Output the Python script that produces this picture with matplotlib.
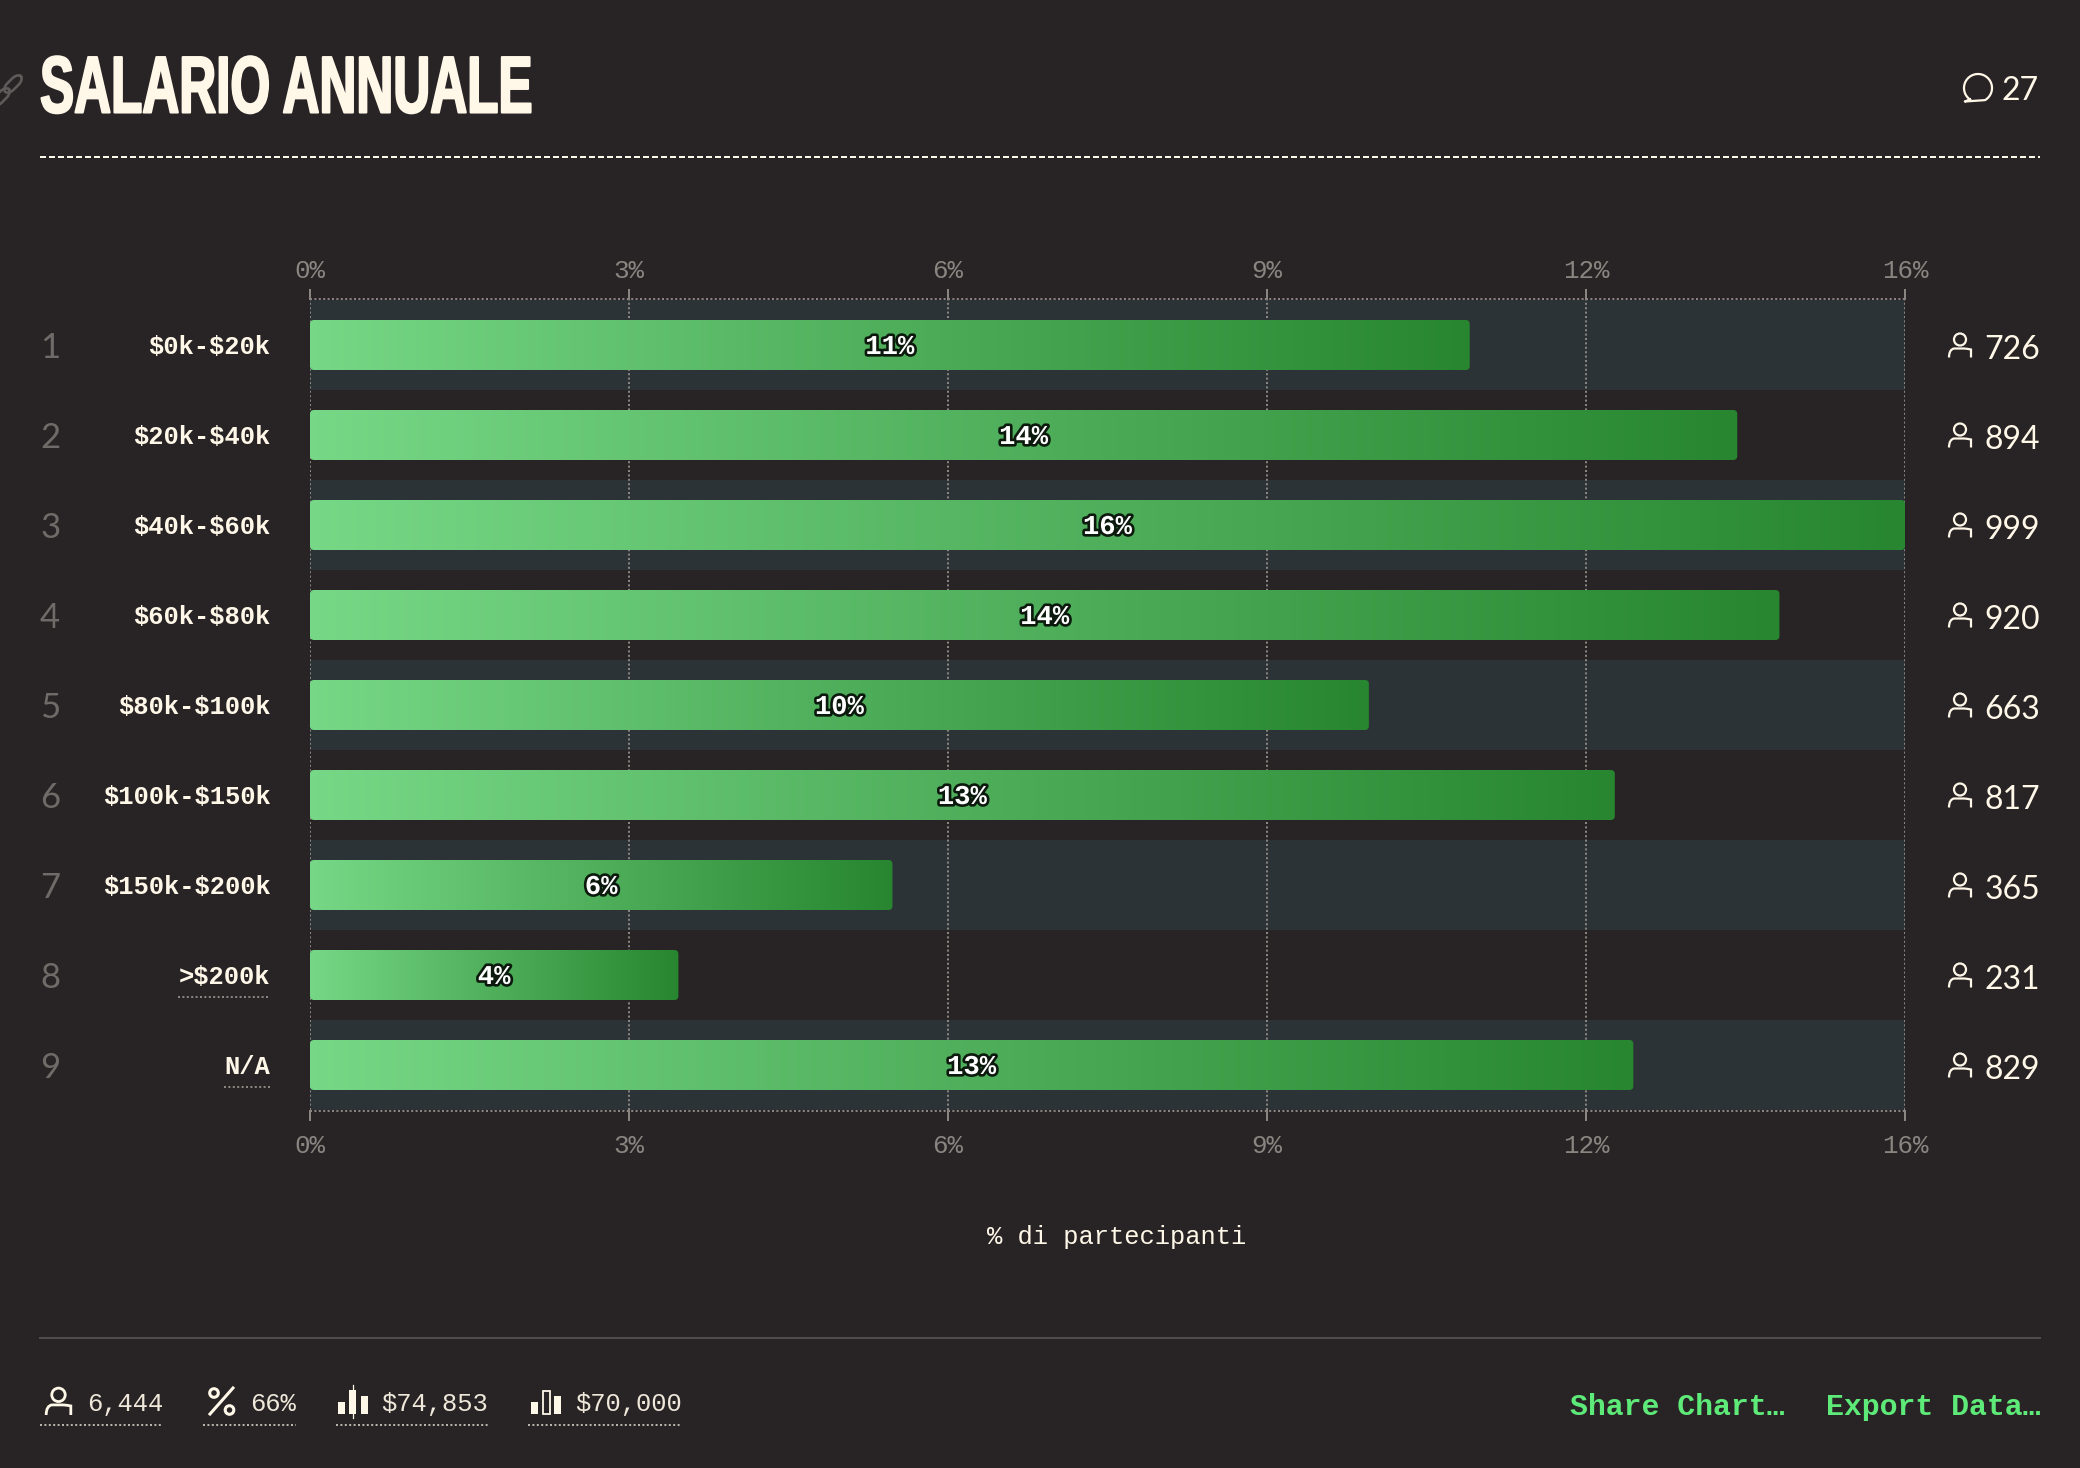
import numpy as np
import matplotlib
matplotlib.use('Agg')
import matplotlib.pyplot as plt
import matplotlib.patheffects as pe
from matplotlib.colors import LinearSegmentedColormap
from matplotlib.patches import FancyBboxPatch, Circle, Rectangle, PathPatch
from matplotlib.path import Path
from matplotlib.transforms import Affine2D, blended_transform_factory

categories = ['$0k-$20k', '$20k-$40k', '$40k-$60k', '$60k-$80k', '$80k-$100k',
              '$100k-$150k', '$150k-$200k', '>$200k', 'N/A']
percent = [11.27, 13.87, 15.50, 14.28, 10.29, 12.68, 5.66, 3.58, 12.86]
percent_labels = ['11%', '14%', '16%', '14%', '10%', '13%', '6%', '4%', '13%']
counts = [726, 894, 999, 920, 663, 817, 365, 231, 829]
tick_values = [0, 3.1, 6.2, 9.3, 12.4, 15.5]
tick_labels = ['0%', '3%', '6%', '9%', '12%', '16%']
stats = ['6,444', '66%', '$74,853', '$70,000']

BG = '#282425'
BAND = '#2c3336'
CREAM = '#fff7e8'
GREY = '#8a8580'
DIM = '#6f6b68'
GREEN = '#5eea78'
MONO = 'Liberation Mono'
SANS = 'Lato'
DOTS = (0, (1, 1.2))


class Squeeze(pe.AbstractPathEffect):
    # narrows a text horizontally around x0 (display px) and thickens it a bit
    def __init__(self, sx, x0, stroke):
        super().__init__()
        self.sx = sx
        self.x0 = x0
        self.stroke = stroke

    def draw_path(self, renderer, gc, tpath, affine, rgbFace=None):
        t = affine + Affine2D().translate(-self.x0, 0).scale(self.sx, 1).translate(self.x0, 0)
        gc0 = renderer.new_gc()
        gc0.copy_properties(gc)
        gc0.set_linewidth(self.stroke)
        gc0.set_foreground(rgbFace)
        renderer.draw_path(gc0, tpath, t, rgbFace)
        gc0.restore()


fig = plt.figure(figsize=(20.8, 14.68), dpi=100, facecolor=BG)

# overlay in pixel coordinates for the page furniture
ov = fig.add_axes([0, 0, 1, 1], zorder=5)
ov.set_xlim(0, 2080)
ov.set_ylim(1468, 0)
ov.axis('off')

ax = fig.add_axes([310 / 2080, 1 - 1110 / 1468, 1595 / 2080, 810 / 1468], zorder=2)
ax.set_facecolor('none')
ax.set_xlim(0, 15.5)
ax.set_ylim(8.5, -0.5)

y = np.arange(len(categories))
for i in y[::2]:
    ax.axhspan(i - 0.5, i + 0.5, color=BAND, lw=0, zorder=0)

ax.set_axisbelow(True)
ax.grid(axis='x', color=GREY, lw=1.44, linestyle=DOTS)
ax.set_xticks(tick_values, tick_labels, fontfamily=MONO, fontsize=18.6, color=GREY)
ax.tick_params(axis='x', length=8, width=1.44, color=GREY, pad=9)
top = ax.secondary_xaxis('top')
top.set_xticks(tick_values, tick_labels, fontfamily=MONO, fontsize=18.6, color=GREY)
top.tick_params(axis='x', length=8, width=1.44, color=GREY, pad=4.5)
ax.set_yticks(y, categories, fontfamily=MONO, fontsize=18.4, fontweight='bold', color=CREAM)
ax.tick_params(axis='y', left=False, pad=25)
for lab in ax.get_yticklabels():
    lab.set_parse_math(False)
for sp in list(ax.spines.values()) + list(top.spines.values()):
    sp.set_visible(False)

# dotted frame, one px outside the rows
for yy in [-0.5 - 1 / 90, 8.5 + 1 / 90]:
    ax.plot([0, 15.5], [yy, yy], color=GREY, lw=1.44, linestyle=DOTS, clip_on=False, zorder=2)

# gradient bars
cmap = LinearSegmentedColormap.from_list('bar', ['#76d786', '#27862f'])
bars = ax.barh(y, percent, height=50 / 90, color='none', lw=0)
for rect, label in zip(bars, percent_labels):
    x0, y0 = rect.get_x(), rect.get_y()
    w, h = rect.get_width(), rect.get_height()
    im = ax.imshow(np.linspace(0, 1, 256).reshape(1, -1), cmap=cmap, aspect='auto',
                   extent=(x0, x0 + w, y0 + h, y0), interpolation='bilinear', zorder=3)
    clip = FancyBboxPatch((x0, y0), w, h, boxstyle='round,pad=0,rounding_size=0.04',
                          mutation_aspect=1.1, transform=ax.transData)
    im.set_clip_path(clip)
    ax.text(x0 + w / 2, y0 + h / 2 + 9 / 90, label, ha='center', va='baseline', color='white',
            fontfamily=MONO, fontweight='bold', fontsize=19.6, zorder=5,
            path_effects=[pe.withStroke(linewidth=3.8, foreground='#0c1a0e')])
ax.set_xlim(0, 15.5)
ax.set_ylim(8.5, -0.5)

row = blended_transform_factory(ov.transData, ax.transData)


def person(cx, top_y, scale=1.0, lw=1.6):
    # head + shoulders outline
    ov.add_patch(Circle((cx, top_y + 7 * scale), 6 * scale, fc='none', ec=CREAM, lw=lw))
    l, r = cx - 11 * scale, cx + 11 * scale
    b, t = top_y + 25 * scale, top_y + 16 * scale
    verts = [(l, b), (l, t + 1), (l + 5 * scale, t), (l + 7 * scale, t), (r - 7 * scale, t),
             (r - 5 * scale, t), (r, t + 1), (r, b)]
    codes = [Path.MOVETO, Path.CURVE3, Path.CURVE3, Path.LINETO, Path.LINETO, Path.CURVE3,
             Path.CURVE3, Path.LINETO]
    ov.add_patch(PathPatch(Path(verts, codes), fc='none', ec=CREAM, lw=lw, capstyle='butt'))


# left and right row columns
for i, n in zip(y, counts):
    ov.text(40, i + 12.5 / 90, str(i + 1), transform=row, ha='left', va='baseline',
            fontfamily=SANS, fontsize=25, color=DIM)
    ov.text(2040, i + 14 / 90, str(n), transform=row, ha='right', va='baseline',
            fontfamily=SANS, fontsize=23, color=CREAM)
    person(1960, 332.5 + i * 90)

for i, x_start in [(7, 178), (8, 224)]:
    ov.plot([x_start, 270], [i + 22 / 90] * 2, transform=row, color=GREY, lw=1.44,
            linestyle=DOTS)

# header
ov.text(40, 112.5, 'SALARIO ANNUALE', ha='left', va='baseline', color=CREAM,
        family='Liberation Sans', fontweight='bold', fontsize=58,
        path_effects=[Squeeze(0.635, 40, 1.5)])
ov.plot([40, 2040], [156.5, 156.5], color=CREAM, lw=1.44, linestyle=(0, (3, 1.5)))

ov.text(2039, 100.5, '27', ha='right', va='baseline', color=CREAM, fontfamily=SANS, fontsize=23)
t = np.radians(np.linspace(125, 420, 80))
bx = 1978 + 14 * np.cos(t)
by = 88 + 14 * np.sin(t)
ov.plot(np.r_[bx, 1964.8, bx[0]], np.r_[by, 101.5, by[0]], color=CREAM, lw=1.6)

# link icon, cut by the left edge
for cx, cy in [(13, 84), (1, 97)]:
    s = np.linspace(0, 2 * np.pi, 60)
    px = 8 * np.cos(s) + np.sign(np.cos(s)) * 3
    py = 4.5 * np.sin(s)
    c45, s45 = np.cos(np.radians(-45)), np.sin(np.radians(-45))
    ov.plot(cx + px * c45 - py * s45, cy + px * s45 + py * c45, color='#5d5a59', lw=1.9)

ov.text(1117, 1244, '% di partecipanti', ha='center', va='baseline', color=CREAM,
        fontfamily=MONO, fontsize=18.4)

# footer
ov.plot([40, 2040], [1337.5, 1337.5], color='#4f4c4c', lw=1.44)
underlines = [(40, 163), (203, 296), (336, 488), (528, 682)]
for (a, b), s in zip(underlines, stats):
    ov.text(b, 1411, s, ha='right', va='baseline', color='#efe8da', fontfamily=MONO,
            fontsize=18.4, parse_math=False)
    ov.plot([a, b], [1425, 1425], color='#b8b2a8', lw=1.44, linestyle=DOTS)

person(58.5, 1387, scale=1.12, lw=2.0)

ov.plot([233, 210], [1388, 1414], color=CREAM, lw=2.2)
ov.add_patch(Circle((214, 1393), 4.3, fc='none', ec=CREAM, lw=2.2))
ov.add_patch(Circle((229.5, 1410), 4.3, fc='none', ec=CREAM, lw=2.2))

for x0, x1, top_y in [(338, 345, 1402), (349, 356, 1390), (361, 368, 1396),
                      (531, 538, 1402), (554, 561, 1396)]:
    ov.add_patch(Rectangle((x0, top_y), x1 - x0, 1414 - top_y, fc=CREAM, lw=0))
ov.plot([352.5, 352.5], [1385, 1418], color=CREAM, lw=0.9)
ov.add_patch(Rectangle((542.5, 1390.5), 7, 23, fc='none', ec=CREAM, lw=1.3))

ov.text(1784, 1415, 'Share Chart…', ha='right', va='baseline', color=GREEN, fontfamily=MONO,
        fontweight='bold', fontsize=21.5)
ov.text(2040, 1415, 'Export Data…', ha='right', va='baseline', color=GREEN, fontfamily=MONO,
        fontweight='bold', fontsize=21.5)

ov.set_xlim(0, 2080)
ov.set_ylim(1468, 0)
fig.savefig('out.png', dpi=100, facecolor=BG)
